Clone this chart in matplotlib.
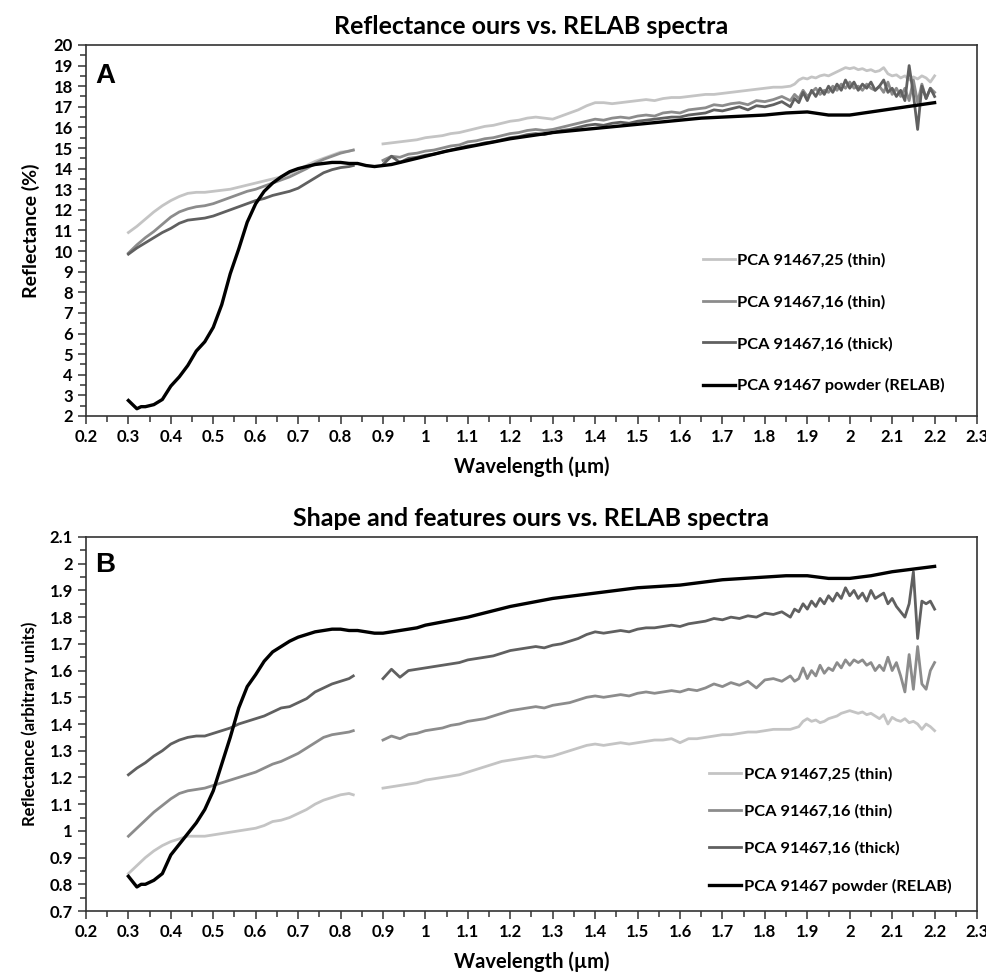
import matplotlib.pyplot as plt
from matplotlib.ticker import MultipleLocator
import numpy as np

plt.rcParams['font.family'] = ['Lato', 'DejaVu Sans']
plt.rcParams['font.weight'] = 'bold'

# longitudes de onda (um)
x_seg1 = [0.30, 0.32, 0.34, 0.36, 0.38, 0.40, 0.42, 0.44, 0.46, 0.48, 0.50, 0.52, 0.54, 0.56,
          0.58, 0.60, 0.62, 0.64, 0.66, 0.68, 0.70, 0.72, 0.74, 0.76, 0.78, 0.80, 0.82, 0.83]
x_seg2 = [0.90, 0.92, 0.94, 0.96, 0.98, 1.00, 1.02, 1.04, 1.06, 1.08, 1.10, 1.12, 1.14, 1.16,
          1.18, 1.20, 1.22, 1.24, 1.26, 1.28, 1.30, 1.32, 1.34, 1.36, 1.38, 1.40, 1.42, 1.44,
          1.46, 1.48, 1.50, 1.52, 1.54, 1.56, 1.58, 1.60, 1.62, 1.64, 1.66, 1.68, 1.70, 1.72,
          1.74, 1.76, 1.78, 1.80, 1.82, 1.84,
          1.86, 1.87, 1.88, 1.89, 1.90, 1.91, 1.92, 1.93, 1.94, 1.95, 1.96, 1.97, 1.98, 1.99,
          2.00, 2.01, 2.02, 2.03, 2.04, 2.05, 2.06, 2.07, 2.08, 2.09, 2.10, 2.11, 2.12, 2.13,
          2.14, 2.15, 2.16, 2.17, 2.18, 2.19, 2.20]
x_relab = [0.30, 0.31, 0.32, 0.33, 0.34, 0.36, 0.38, 0.40, 0.42, 0.44, 0.46, 0.48, 0.50, 0.52,
           0.54, 0.56, 0.58, 0.60, 0.62, 0.64, 0.66, 0.68, 0.70, 0.72, 0.74, 0.76, 0.78, 0.80,
           0.82, 0.84, 0.86, 0.88, 0.90, 0.92, 0.94, 0.96, 0.98, 1.00, 1.05, 1.10, 1.15, 1.20,
           1.25, 1.30, 1.35, 1.40, 1.45, 1.50, 1.55, 1.60, 1.65, 1.70, 1.75, 1.80, 1.85, 1.90,
           1.95, 2.00, 2.05, 2.10, 2.15, 2.20]

# Panel A: reflectancia (%)
a_25thin_1 = [10.9, 11.2, 11.55, 11.9, 12.2, 12.45, 12.65, 12.8, 12.85, 12.85, 12.9, 12.95, 13.0, 13.1,
              13.2, 13.3, 13.4, 13.5, 13.6, 13.75, 13.95, 14.15, 14.35, 14.5, 14.65, 14.8, 14.85, 14.9]
a_16thin_1 = [9.9, 10.3, 10.65, 10.95, 11.3, 11.65, 11.9, 12.05, 12.15, 12.2, 12.3, 12.45, 12.6, 12.75,
              12.9, 13.0, 13.15, 13.3, 13.45, 13.6, 13.8, 14.0, 14.25, 14.45, 14.6, 14.75, 14.85, 14.9]
a_16thick_1 = [9.85, 10.15, 10.4, 10.65, 10.9, 11.1, 11.35, 11.5, 11.55, 11.6, 11.7, 11.85, 12.0, 12.15,
               12.3, 12.45, 12.55, 12.7, 12.8, 12.9, 13.05, 13.3, 13.55, 13.8, 13.95, 14.05, 14.1, 14.15]
a_25thin_2 = [15.2, 15.25, 15.3, 15.35, 15.4, 15.5, 15.55, 15.6, 15.7, 15.75, 15.85, 15.95, 16.05, 16.1,
              16.2, 16.3, 16.35, 16.45, 16.5, 16.45, 16.4, 16.55, 16.7, 16.85, 17.05, 17.2, 17.2, 17.15,
              17.2, 17.25, 17.3, 17.35, 17.3, 17.4, 17.45, 17.45, 17.5, 17.55, 17.6, 17.6, 17.65, 17.7,
              17.75, 17.8, 17.85, 17.9, 17.95, 17.95,
              18.0, 18.1, 18.3, 18.4, 18.35, 18.45, 18.4, 18.5, 18.55, 18.5, 18.6, 18.7, 18.8, 18.9,
              18.85, 18.9, 18.8, 18.85, 18.75, 18.8, 18.7, 18.75, 18.9, 18.6, 18.5, 18.55, 18.4, 18.5,
              18.3, 18.45, 18.35, 18.5, 18.4, 18.2, 18.5]
a_16thin_2 = [14.4, 14.6, 14.55, 14.7, 14.75, 14.85, 14.9, 15.0, 15.1, 15.15, 15.3, 15.35, 15.45, 15.5,
              15.6, 15.7, 15.75, 15.85, 15.9, 15.85, 15.9, 16.0, 16.1, 16.2, 16.3, 16.4, 16.35, 16.45,
              16.5, 16.45, 16.55, 16.6, 16.55, 16.7, 16.75, 16.7, 16.85, 16.9, 16.95, 17.1, 17.05, 17.15,
              17.2, 17.1, 17.3, 17.25, 17.35, 17.5,
              17.3, 17.6, 17.4, 17.8, 17.5, 17.7, 17.9, 17.6, 17.8, 17.7, 18.0, 17.8, 18.1, 17.9,
              18.2, 17.9, 18.0, 17.8, 18.1, 17.9, 17.8, 18.0, 17.7, 18.2, 17.6, 17.9, 17.5, 17.9,
              17.3, 18.3, 17.2, 18.1, 17.4, 17.9, 17.7]
a_16thick_2 = [14.2, 14.6, 14.3, 14.5, 14.55, 14.65, 14.7, 14.8, 14.9, 15.0, 15.1, 15.15, 15.25, 15.3,
               15.4, 15.5, 15.55, 15.65, 15.7, 15.65, 15.75, 15.85, 15.9, 16.0, 16.1, 16.15, 16.1, 16.2,
               16.25, 16.2, 16.3, 16.35, 16.4, 16.45, 16.5, 16.5, 16.6, 16.65, 16.7, 16.85, 16.8, 16.9,
               17.0, 16.85, 17.05, 17.0, 17.1, 17.25,
               17.0, 17.4, 17.2, 17.7, 17.3, 17.8, 17.5, 17.9, 17.6, 18.0, 17.7, 18.1, 17.8, 18.3,
               17.9, 18.2, 17.8, 18.1, 17.9, 18.2, 17.8, 18.0, 18.3, 17.7, 17.9, 17.5, 17.8, 17.3,
               19.0, 17.6, 15.9, 18.0, 17.4, 17.9, 17.5]
a_relab = [2.75, 2.55, 2.35, 2.45, 2.45, 2.55, 2.8, 3.45, 3.9, 4.45, 5.15, 5.6, 6.3, 7.4,
           8.9, 10.1, 11.4, 12.3, 12.9, 13.3, 13.6, 13.85, 14.0, 14.1, 14.2, 14.25, 14.3, 14.3,
           14.25, 14.25, 14.15, 14.1, 14.15, 14.2, 14.3, 14.4, 14.5, 14.6, 14.85, 15.05, 15.25, 15.45,
           15.6, 15.75, 15.85, 15.95, 16.05, 16.15, 16.25, 16.35, 16.45, 16.5, 16.55, 16.6, 16.7, 16.75,
           16.6, 16.6, 16.75, 16.9, 17.05, 17.2]

# Panel B: unidades arbitrarias
b_25thin_1 = [0.84, 0.87, 0.90, 0.925, 0.945, 0.96, 0.97, 0.98, 0.98, 0.98, 0.985, 0.99, 0.995, 1.0,
              1.005, 1.01, 1.02, 1.035, 1.04, 1.05, 1.065, 1.08, 1.10, 1.115, 1.125, 1.135, 1.14, 1.135]
b_16thin_1 = [0.98, 1.01, 1.04, 1.07, 1.095, 1.12, 1.14, 1.15, 1.155, 1.16, 1.17, 1.18, 1.19, 1.20,
              1.21, 1.22, 1.235, 1.25, 1.26, 1.275, 1.29, 1.31, 1.33, 1.35, 1.36, 1.365, 1.37, 1.375]
b_16thick_1 = [1.21, 1.235, 1.255, 1.28, 1.30, 1.325, 1.34, 1.35, 1.355, 1.355, 1.365, 1.375, 1.385, 1.40,
               1.41, 1.42, 1.43, 1.445, 1.46, 1.465, 1.48, 1.495, 1.52, 1.535, 1.55, 1.56, 1.57, 1.58]
b_25thin_2 = [1.16, 1.165, 1.17, 1.175, 1.18, 1.19, 1.195, 1.20, 1.205, 1.21, 1.22, 1.23, 1.24, 1.25,
              1.26, 1.265, 1.27, 1.275, 1.28, 1.275, 1.28, 1.29, 1.30, 1.31, 1.32, 1.325, 1.32, 1.325,
              1.33, 1.325, 1.33, 1.335, 1.34, 1.34, 1.345, 1.33, 1.345, 1.345, 1.35, 1.355, 1.36, 1.36,
              1.365, 1.37, 1.37, 1.375, 1.38, 1.38,
              1.38, 1.385, 1.39, 1.41, 1.42, 1.41, 1.415, 1.405, 1.41, 1.42, 1.425, 1.43, 1.44, 1.445,
              1.45, 1.445, 1.44, 1.445, 1.435, 1.44, 1.43, 1.42, 1.435, 1.40, 1.425, 1.415, 1.41, 1.42,
              1.405, 1.41, 1.40, 1.38, 1.40, 1.39, 1.375]
b_16thin_2 = [1.34, 1.355, 1.345, 1.36, 1.365, 1.375, 1.38, 1.385, 1.395, 1.40, 1.41, 1.415, 1.42, 1.43,
              1.44, 1.45, 1.455, 1.46, 1.465, 1.46, 1.47, 1.475, 1.48, 1.49, 1.50, 1.505, 1.50, 1.505,
              1.51, 1.505, 1.515, 1.52, 1.515, 1.52, 1.525, 1.52, 1.53, 1.525, 1.535, 1.55, 1.54, 1.555,
              1.545, 1.56, 1.535, 1.565, 1.57, 1.56,
              1.58, 1.56, 1.57, 1.61, 1.57, 1.60, 1.58, 1.62, 1.59, 1.61, 1.60, 1.63, 1.61, 1.64,
              1.62, 1.64, 1.63, 1.64, 1.62, 1.63, 1.60, 1.62, 1.60, 1.65, 1.60, 1.63, 1.58, 1.52,
              1.66, 1.53, 1.69, 1.55, 1.53, 1.60, 1.63]
b_16thick_2 = [1.57, 1.605, 1.575, 1.60, 1.605, 1.61, 1.615, 1.62, 1.625, 1.63, 1.64, 1.645, 1.65, 1.655,
               1.665, 1.675, 1.68, 1.685, 1.69, 1.685, 1.695, 1.70, 1.71, 1.72, 1.735, 1.745, 1.74, 1.745,
               1.75, 1.745, 1.755, 1.76, 1.76, 1.765, 1.77, 1.765, 1.775, 1.78, 1.785, 1.795, 1.79, 1.80,
               1.795, 1.805, 1.80, 1.815, 1.81, 1.82,
               1.80, 1.83, 1.82, 1.85, 1.83, 1.86, 1.84, 1.87, 1.85, 1.88, 1.86, 1.89, 1.87, 1.91,
               1.88, 1.90, 1.87, 1.89, 1.86, 1.90, 1.87, 1.88, 1.89, 1.85, 1.87, 1.84, 1.82, 1.80,
               1.85, 1.97, 1.72, 1.86, 1.85, 1.86, 1.83]
b_relab = [0.83, 0.81, 0.79, 0.80, 0.80, 0.815, 0.84, 0.91, 0.95, 0.99, 1.03, 1.08, 1.15, 1.25,
           1.35, 1.46, 1.54, 1.585, 1.635, 1.67, 1.69, 1.71, 1.725, 1.735, 1.745, 1.75, 1.755, 1.755,
           1.75, 1.75, 1.745, 1.74, 1.74, 1.745, 1.75, 1.755, 1.76, 1.77, 1.785, 1.80, 1.82, 1.84,
           1.855, 1.87, 1.88, 1.89, 1.90, 1.91, 1.915, 1.92, 1.93, 1.94, 1.945, 1.95, 1.955, 1.955,
           1.945, 1.945, 1.955, 1.97, 1.98, 1.99]

labels = ["PCA 91467,25 (thin)", "PCA 91467,16 (thin)", "PCA 91467,16 (thick)", "PCA 91467 powder (RELAB)"]
colors = ["#c4c4c4", "#8c8c8c", "#606060", "#000000"]


def fmt(v, p):
    return ("%.1f" % v).rstrip('0').rstrip('.')


def dibujar(ax, s25_1, s25_2, s16_1, s16_2, sk_1, sk_2, relab):
    ax.plot(x_seg1, s25_1, color=colors[0], lw=2.0, label=labels[0])
    ax.plot(x_seg2, s25_2, color=colors[0], lw=2.0)
    ax.plot(x_seg1, s16_1, color=colors[1], lw=2.0, label=labels[1])
    ax.plot(x_seg2, s16_2, color=colors[1], lw=2.0)
    ax.plot(x_seg1, sk_1, color=colors[2], lw=2.0, label=labels[2])
    ax.plot(x_seg2, sk_2, color=colors[2], lw=2.0)
    ax.plot(x_relab, relab, color=colors[3], lw=2.4, label=labels[3])
    ax.set_xlim(0.2, 2.3)
    ax.xaxis.set_major_locator(MultipleLocator(0.1))
    ax.xaxis.set_minor_locator(MultipleLocator(0.05))
    ax.xaxis.set_major_formatter(plt.FuncFormatter(fmt))
    ax.tick_params(which='both', direction='out', labelsize=12, color='#333333')
    ax.tick_params(which='major', length=6, width=1.1)
    ax.tick_params(which='minor', length=4, width=1.1)
    for s in ax.spines.values():
        s.set_color('#333333')
        s.set_linewidth(1.2)
    ax.set_xlabel("Wavelength (µm)", fontsize=14.5, fontweight='bold', labelpad=8)


fig = plt.figure(figsize=(9.87, 9.73), dpi=100)

axA = fig.add_axes([0.0871, 0.5725, 0.9028, 0.3813])
dibujar(axA, a_25thin_1, a_25thin_2, a_16thin_1, a_16thin_2, a_16thick_1, a_16thick_2, a_relab)
axA.set_ylim(2, 20)
axA.yaxis.set_major_locator(MultipleLocator(1))
axA.yaxis.set_minor_locator(MultipleLocator(0.5))
axA.set_ylabel("Reflectance (%)", fontsize=14, fontweight='bold', labelpad=10)
axA.set_title("Reflectance ours vs. RELAB spectra", fontsize=18, fontweight='bold', pad=8)
axA.text(0.01, 0.951, "A", transform=axA.transAxes, fontsize=20, fontweight='bold',
         family='Liberation Sans', va='top', ha='left')
axA.legend(loc='upper left', bbox_to_anchor=(0.676, 0.478), frameon=False, fontsize=11.8,
           handlelength=1.95, handletextpad=0.15, labelspacing=1.66)

axB = fig.add_axes([0.0871, 0.0637, 0.9028, 0.3844])
dibujar(axB, b_25thin_1, b_25thin_2, b_16thin_1, b_16thin_2, b_16thick_1, b_16thick_2, b_relab)
axB.set_ylim(0.7, 2.1)
axB.yaxis.set_major_locator(MultipleLocator(0.1))
axB.yaxis.set_minor_locator(MultipleLocator(0.05))
axB.yaxis.set_major_formatter(plt.FuncFormatter(fmt))
axB.set_ylabel("Reflectance (arbitrary units)", fontsize=12, fontweight='bold', labelpad=8)
axB.set_title("Shape and features ours vs. RELAB spectra", fontsize=18, fontweight='bold', pad=8)
axB.text(0.01, 0.96, "B", transform=axB.transAxes, fontsize=20, fontweight='bold',
         family='Liberation Sans', va='top', ha='left')
axB.legend(loc='upper left', bbox_to_anchor=(0.683, 0.425), frameon=False, fontsize=11.8,
           handlelength=1.95, handletextpad=0.15, labelspacing=1.39)

fig.savefig("out.png", dpi=100)
